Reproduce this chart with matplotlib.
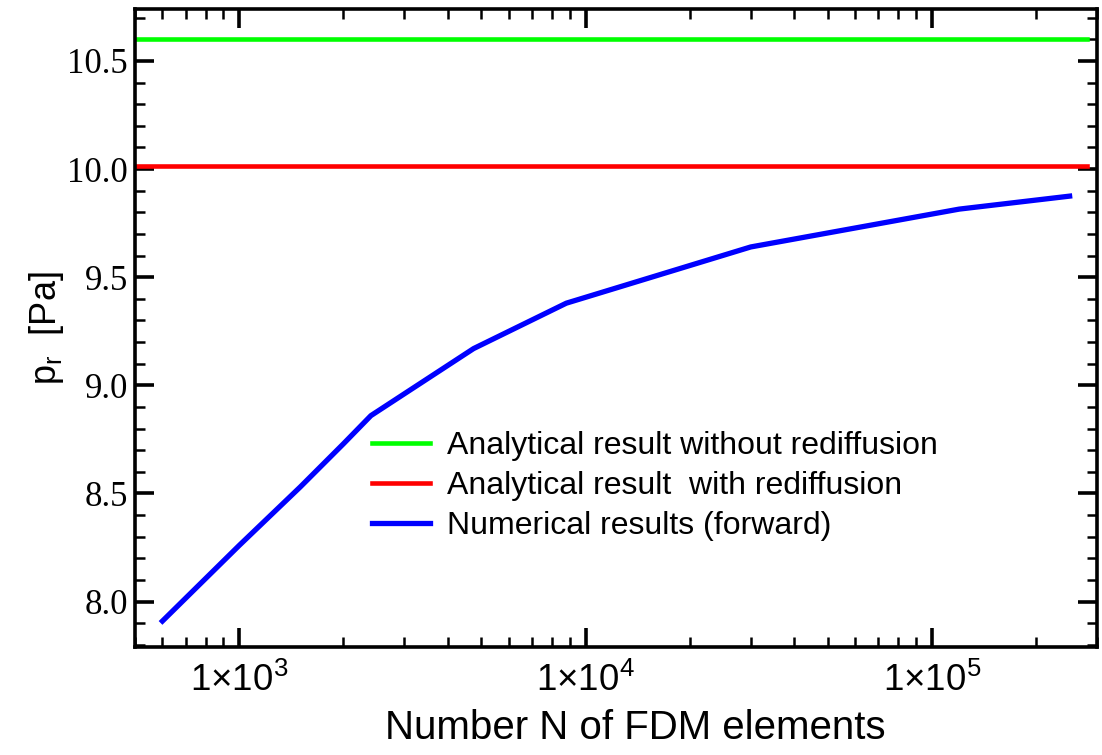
import matplotlib
matplotlib.use('Agg')
import matplotlib.pyplot as plt
from matplotlib.ticker import FixedLocator, LogLocator, MultipleLocator, NullFormatter

# valores
n_elements = [600, 1000, 1500, 2000, 2400, 4750, 8800, 30000, 120000, 250000]
p_numerical = [7.91, 8.26, 8.53, 8.73, 8.86, 9.17, 9.38, 9.64, 9.815, 9.875]
n_span = [500, 2.8e5]
p_no_rediff = [10.6, 10.6]
p_rediff = [10.012, 10.012]
x_ticks = [1e3, 1e4, 1e5]
x_ticklabels = ['1×10$^\\mathregular{3}$', '1×10$^\\mathregular{4}$', '1×10$^\\mathregular{5}$']
y_ticks = [8.0, 8.5, 9.0, 9.5, 10.0, 10.5]

plt.rcParams['mathtext.fontset'] = 'custom'
plt.rcParams['mathtext.rm'] = 'Liberation Sans'
plt.rcParams['font.family'] = ['Liberation Sans', 'DejaVu Sans']

fig = plt.figure(figsize=(11.02, 7.55), dpi=100)
ax = fig.add_axes([0.1225, 0.143, 0.873, 0.845])

ax.plot(n_span, p_no_rediff, color='#00ff00', lw=3.3, label='Analytical result without rediffusion')
ax.plot(n_span, p_rediff, color='#ff0000', lw=3.3, label='Analytical result  with rediffusion')
ax.plot(n_elements, p_numerical, color='#0000ff', lw=3.8, label='Numerical results (forward)')

ax.set_xscale('log')
ax.set_xlim(500, 3e5)
ax.set_ylim(7.79, 10.74)

ax.xaxis.set_major_locator(FixedLocator(x_ticks))
ax.set_xticklabels(x_ticklabels, fontsize=26.5, family='Liberation Sans')
ax.xaxis.set_minor_locator(LogLocator(base=10, subs=range(2, 10)))
ax.xaxis.set_minor_formatter(NullFormatter())

ax.set_yticks(y_ticks)
ax.set_yticklabels(['%.1f' % v for v in y_ticks], fontsize=25, family='Liberation Serif')
ax.yaxis.set_minor_locator(MultipleLocator(0.1))

ax.tick_params(which='both', direction='in', top=True, right=True)
ax.tick_params(which='major', length=14, width=2.6)
ax.tick_params(which='minor', length=7, width=1.8)
ax.tick_params(axis='x', which='major', pad=11)
ax.tick_params(axis='y', which='major', pad=5)
for s in ax.spines.values():
    s.set_linewidth(2.6)

ax.set_xlabel('Number N of FDM elements', fontsize=29)
ax.xaxis.set_label_coords(0.52, -0.097)
ax.set_ylabel('p$_\\mathregular{r}$  [Pa]', fontsize=26)
ax.yaxis.set_label_coords(-0.072, 0.5)

ax.legend(loc='center left', bbox_to_anchor=(0.2464, 0.252), frameon=False, fontsize=23,
          borderpad=0, borderaxespad=0, handlelength=1.8, handletextpad=0.55, labelspacing=0.32)

plt.savefig('out.png', dpi=100)
